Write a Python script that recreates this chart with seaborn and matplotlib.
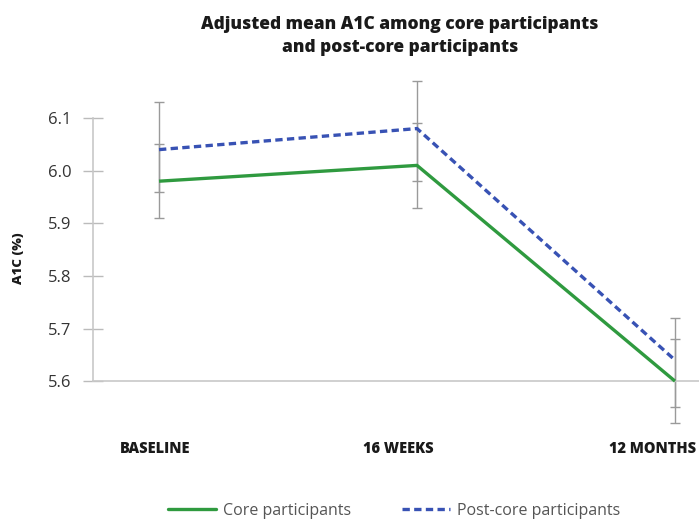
import matplotlib
matplotlib.use("Agg")
import matplotlib.pyplot as plt
import matplotlib.transforms as mtrans
import seaborn as sns
import pandas as pd
import numpy as np
from matplotlib.lines import Line2D

categories = ["BASELINE", "16 WEEKS", "12 MONTHS"]
core_mean = [5.98, 6.01, 5.60]
core_low = [5.91, 5.93, 5.52]
core_high = [6.05, 6.09, 5.68]
post_mean = [6.04, 6.08, 5.64]
post_low = [5.96, 5.98, 5.55]
post_high = [6.13, 6.17, 5.72]
series_names = ["Core participants", "Post-core participants"]
yticks = [5.6, 5.7, 5.8, 5.9, 6.0, 6.1]

sns.set_theme(style="white")
plt.rcParams["font.family"] = ["Open Sans", "DejaVu Sans"]

df = pd.DataFrame({
    "time": categories * 2,
    "a1c": core_mean + post_mean,
    "group": [series_names[0]] * 3 + [series_names[1]] * 3,
})

green = "#2f9a3f"
blue = "#3852b4"
grey = "#9a9a9a"

fig = plt.figure(figsize=(6.99, 5.20), dpi=100)
ax = fig.add_axes([0.133, 0.267, 0.867, 0.506])

x = np.arange(len(categories))
for m, lo, hi in [(core_mean, core_low, core_high), (post_mean, post_low, post_high)]:
    m = np.array(m); lo = np.array(lo); hi = np.array(hi)
    ax.errorbar(x, m, yerr=[m - lo, hi - m], fmt="none", ecolor=grey,
                elinewidth=1.0, capsize=3.8, capthick=1.0, clip_on=False, zorder=1)

sns.lineplot(data=df, x="time", y="a1c", hue="group", style="group",
             palette=[green, blue], dashes=[(1, 0), (2.2, 1.3)],
             linewidth=2.4, ax=ax, legend=False, zorder=3)
for ln in ax.lines:
    ln.set_clip_on(False)

ax.set_xlim(-0.256, 2.093)
ax.set_ylim(5.6, 6.1)
ax.set_yticks(yticks)
ax.set_yticklabels([f"{v:.1f}" for v in yticks], fontsize=12, color="#333333")
ax.set_xticks(x)
ax.set_xticklabels(categories, fontsize=10.5, fontweight="heavy", color="#1a1a1a")
ax.tick_params(axis="x", length=0, pad=43)
# shift x labels slightly left as in the reference
offsets_px = [-4, -19, -22]
for lab, dx in zip(ax.get_xticklabels(), offsets_px):
    lab.set_transform(lab.get_transform() + mtrans.ScaledTranslation(dx / 100, 0, fig.dpi_scale_trans))
ax.tick_params(axis="y", direction="inout", length=15, width=1, color="#bbbbbb", pad=8, left=True)
for s in ["top", "right"]:
    ax.spines[s].set_visible(False)
for s in ["left", "bottom"]:
    ax.spines[s].set_color("#c8c8c8")
    ax.spines[s].set_linewidth(1.2)
ax.set_xlabel("")
ax.set_ylabel("A1C (%)", fontsize=9.5, fontweight="heavy", color="#1a1a1a")
ax.yaxis.set_label_coords(-0.112, 0.468)

fig.text(0.572, 0.93, "Adjusted mean A1C among core participants\nand post-core participants",
         ha="center", va="center", fontsize=12.5, fontweight="heavy", color="#1a1a1a",
         linespacing=1.45)

handles = [Line2D([0], [0], color=green, lw=2.4),
           Line2D([0], [0], color=blue, lw=2.4, dashes=(2.2, 1.3))]
fig.legend(handles, series_names, loc="center", bbox_to_anchor=(0.564, 0.018),
           ncol=2, frameon=False, fontsize=11.5, labelcolor="#555555",
           handlelength=3.0, columnspacing=3.2, handletextpad=0.45)

fig.savefig("out.png", dpi=100)
